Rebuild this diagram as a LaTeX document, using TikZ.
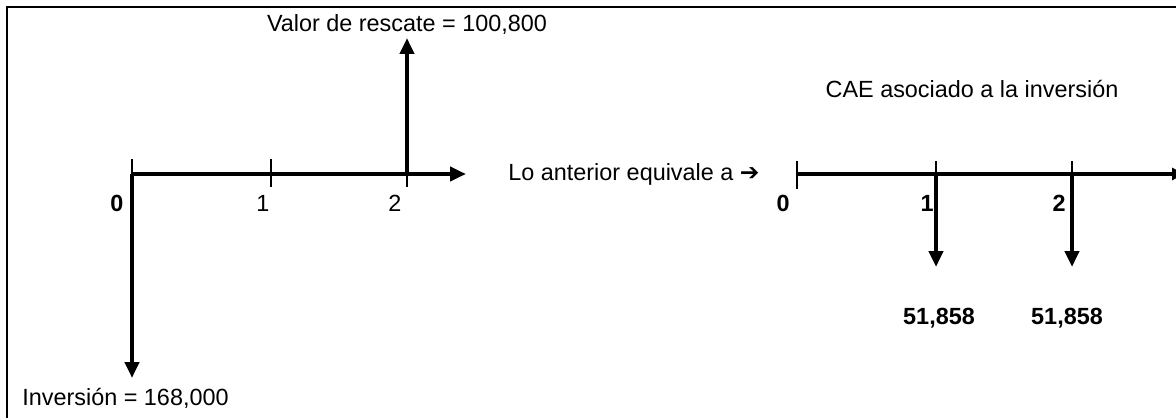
\documentclass[tikz,border=0pt]{standalone}
\usepackage{fontspec}
\setmainfont{Liberation Sans}
\newfontfamily\symfont{DejaVu Sans}
\usetikzlibrary{arrows.meta}

\begin{document}
\begin{tikzpicture}[x=0.5pt, y=-0.5pt, >={Triangle[length=8pt,width=7pt]},
    eje/.style={line width=2.4pt},
    flujo/.style={line width=2.4pt, ->},
    marca/.style={line width=0.6pt},
    txt/.style={font=\fontsize{11.7}{14}\selectfont, inner sep=0pt},
    num/.style={font=\fontsize{11.7}{14}\selectfont\bfseries, inner sep=0pt}]

    \useasboundingbox (0,0) rectangle (1176,417);
    \clip (0,0) rectangle (1176,417);

    % Marco
    \draw[line width=1pt] (7,430) -- (7,7) -- (1190,7);

    % ==========================================
    % Flujos de la inversion (izquierda)
    % ==========================================
    \coordinate (p0) at (132,174);
    \coordinate (p1) at (271,174);
    \coordinate (p2) at (407,174);
    \coordinate (pfin) at (466,174);
    \coordinate (pinv) at (132,378);
    \coordinate (pres) at (407,38);

    % Ticks
    \foreach \p in {p0, p1, p2} {
        \draw[marca] (\p) ++(0,-15) -- ++(0,28);
    }

    % Eje de tiempo
    \draw[eje, ->] (p0) -- (pfin);

    % Inversion y valor de rescate
    \draw[flujo] (p0) -- (pinv);
    \draw[flujo] (p2) -- (pres);

    \node[num] (l0) at (117,203) {0};
    \node[txt] (l1) at (263,203) {1};
    \node[txt] (l2) at (395,203) {2};
    \node[txt] (rescate) at (407,25) {Valor de rescate = 100,800};
    \node[txt, anchor=west] (inversion) at (22,398) {Inversión = 168,000};

    % Texto intermedio
    \node[txt, anchor=west] (equiv) at (508,174) {Lo anterior equivale a {\symfont ➔}};

    % ==========================================
    % CAE (derecha)
    % ==========================================
    \coordinate (q0) at (797,174);
    \coordinate (q1) at (936,174);
    \coordinate (q2) at (1072,174);
    \coordinate (qfin) at (1184,174);
    \coordinate (qc1) at (936,267);
    \coordinate (qc2) at (1072,267);

    \foreach \q in {q0, q1, q2} {
        \draw[marca] (\q) ++(0,-13) -- ++(0,28);
    }

    \draw[line width=1.8pt, -{Triangle[length=6pt,width=6pt]}] (q0) -- (qfin);

    \draw[flujo] (q1) -- (qc1);
    \draw[flujo] (q2) -- (qc2);

    \node[num] (m0) at (783,203) {0};
    \node[num] (m1) at (927,203) {1};
    \node[num] (m2) at (1059,203) {2};
    \node[num] (c1) at (939,318) {51,858};
    \node[num] (c2) at (1067,318) {51,858};
    \node[txt] (cae) at (972,89) {CAE asociado a la inversión};

\end{tikzpicture}
\end{document}
